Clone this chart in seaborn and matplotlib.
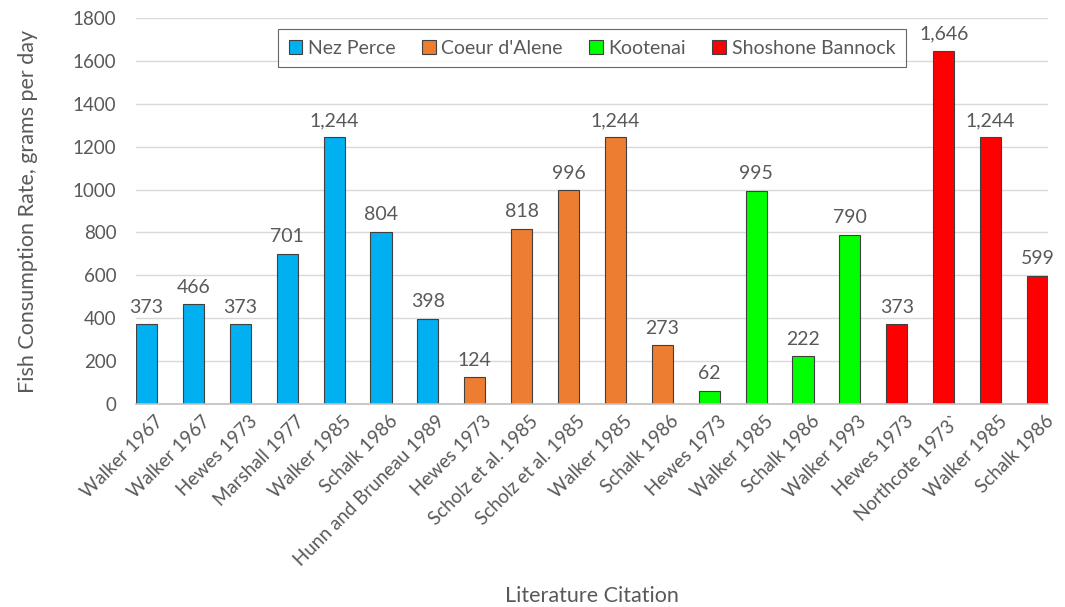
import matplotlib
matplotlib.use("Agg")
import matplotlib.pyplot as plt
import matplotlib.transforms as mtransforms
import seaborn as sns
import pandas as pd
from matplotlib.patches import Patch

citations = ["Walker 1967", "Walker 1967", "Hewes 1973", "Marshall 1977", "Walker 1985",
             "Schalk 1986", "Hunn and Bruneau 1989", "Hewes 1973", "Scholz et al. 1985",
             "Scholz et al. 1985", "Walker 1985", "Schalk 1986", "Hewes 1973", "Walker 1985",
             "Schalk 1986", "Walker 1993", "Hewes 1973", "Northcote 1973`", "Walker 1985",
             "Schalk 1986"]
tribes = ["Nez Perce"] * 7 + ["Coeur d'Alene"] * 5 + ["Kootenai"] * 4 + ["Shoshone Bannock"] * 4
values = [373, 466, 373, 701, 1244, 804, 398, 124, 818, 996, 1244, 273, 62, 995, 222, 790,
          373, 1646, 1244, 599]
tribe_order = ["Nez Perce", "Coeur d'Alene", "Kootenai", "Shoshone Bannock"]
palette = {"Nez Perce": "#00B0F0", "Coeur d'Alene": "#ED7D31",
           "Kootenai": "#00FF00", "Shoshone Bannock": "#FF0000"}

df = pd.DataFrame({"idx": list(range(len(values))), "value": values, "tribe": tribes})

sns.set_theme(style="white")
plt.rcParams["font.family"] = ["Lato", "DejaVu Sans"]
txt = "#595959"

fig = plt.figure(figsize=(10.65, 6.07), dpi=100)
ax = fig.add_axes([136 / 1065, 203 / 607, (1048 - 136) / 1065, (404 - 18) / 607])

bw = 0.45
sns.barplot(data=df, x="idx", y="value", hue="tribe", hue_order=tribe_order,
            palette=palette, dodge=False, width=bw, ax=ax, saturation=1,
            edgecolor="#404040", linewidth=0.8, legend=False)

ax.set_ylim(0, 1800)
ax.set_yticks(range(0, 1801, 200))
ax.yaxis.grid(True, color="#D9D9D9", linewidth=1)
ax.set_axisbelow(True)
for s in ["top", "right", "left"]:
    ax.spines[s].set_visible(False)
ax.spines["bottom"].set_color("#BFBFBF")
ax.spines["bottom"].set_linewidth(1.2)
ax.tick_params(axis="both", length=0, colors=txt, labelsize=13.5)
ax.tick_params(axis="y", pad=14)
ax.set_xticks(range(len(values)))
ax.set_xticklabels(citations, rotation=45, ha="right", rotation_mode="anchor", color=txt, fontsize=13.5)
ax.tick_params(axis="x", pad=6)
offset = mtransforms.ScaledTranslation(8 / 100, 0, fig.dpi_scale_trans)
for lab in ax.get_xticklabels():
    lab.set_transform(lab.get_transform() + offset)
ax.set_xlim(-bw / 2, len(values) - 1 + bw / 2)

for i, v in enumerate(values):
    ax.annotate(f"{v:,}", (i, v), xytext=(0, 6), textcoords="offset points",
                ha="center", va="bottom", fontsize=14, color=txt)

ax.set_ylabel("Fish Consumption Rate, grams per day", fontsize=15.5, color=txt)
ax.yaxis.set_label_coords(-0.118, 0.5)
ax.yaxis.label.set_va("center")
ax.set_xlabel("Literature Citation", fontsize=15.5, color=txt)
ax.xaxis.set_label_coords(0.5, -0.497)
ax.xaxis.label.set_va("center")

handles = [Patch(facecolor=palette[t], edgecolor="#404040", linewidth=0.8, label=t) for t in tribe_order]
leg = ax.legend(handles=handles, loc="upper left", bbox_to_anchor=(0.145, 0.997), ncol=4,
                frameon=True, fontsize=14, handlelength=0.7, handleheight=0.7,
                handletextpad=0.3, columnspacing=1.35, borderpad=0.55, fancybox=False)
leg.get_frame().set_edgecolor("#404040")
leg.get_frame().set_linewidth(0.8)
for t in leg.get_texts():
    t.set_color(txt)

fig.savefig("out.png", dpi=100)
